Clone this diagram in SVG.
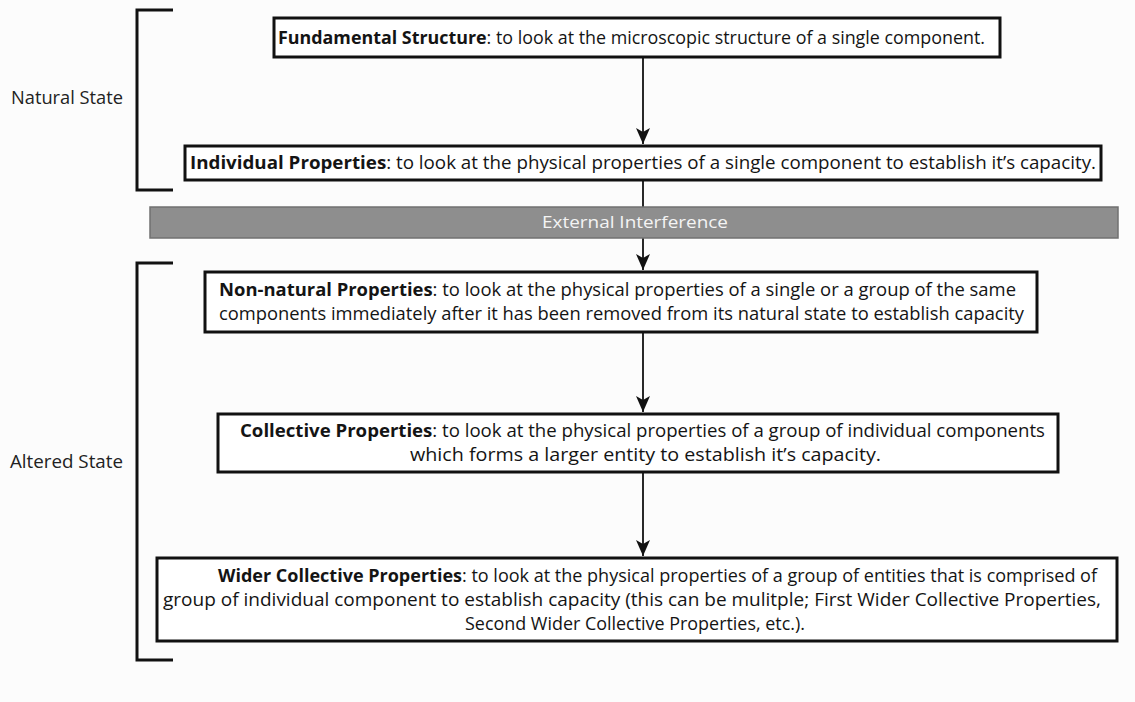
<svg xmlns="http://www.w3.org/2000/svg" width="1135" height="702" viewBox="0 0 1135 702">
<defs>
<style>
.box{fill:#ffffff;stroke:#111;stroke-width:3}
.t{font-family:"Open Sans","Liberation Sans",sans-serif;font-size:17.5px;fill:#141414}
.b{font-weight:700}
.lab{font-family:"Open Sans","Liberation Sans",sans-serif;font-size:18px;fill:#222}
.br{fill:none;stroke:#111;stroke-width:3}
.c{fill:none;stroke:#111;stroke-width:1.8}
</style>
<marker id="ah" viewBox="0 0 16 14" refX="16" refY="7" markerWidth="16" markerHeight="14" markerUnits="userSpaceOnUse" orient="auto">
<path d="M0,0 L4,7 L0,14 L16,7 Z" fill="#111"/>
</marker>
</defs>
<rect width="1135" height="702" fill="#fcfcfc"/>
<g id="natural-state">
<path class="br" d="M173,10 H137 V190 H173"/>
<text class="lab" x="11" y="104" textLength="112" lengthAdjust="spacingAndGlyphs">Natural State</text>
</g>
<g id="altered-state">
<path class="br" d="M173,263 H137 V660 H173"/>
<text class="lab" x="10" y="468" textLength="113" lengthAdjust="spacingAndGlyphs">Altered State</text>
</g>
<g id="connectors">
<line class="c" x1="643" y1="58" x2="643" y2="144" marker-end="url(#ah)"/>
<line class="c" x1="643" y1="180" x2="643" y2="207"/>
<line class="c" x1="643" y1="238" x2="643" y2="270" marker-end="url(#ah)"/>
<line class="c" x1="643" y1="332" x2="643" y2="412" marker-end="url(#ah)"/>
<line class="c" x1="643" y1="473" x2="643" y2="556" marker-end="url(#ah)"/>
</g>
<g id="fundamental">
<rect class="box" x="274" y="18" width="726" height="39"/>
<text class="t" x="278" y="44" textLength="707" lengthAdjust="spacingAndGlyphs"><tspan class="b">Fundamental Structure</tspan>: to look at the microscopic structure of a single component.</text>
</g>
<g id="individual">
<rect class="box" x="185" y="146" width="916" height="34"/>
<text class="t" x="190" y="169" textLength="906" lengthAdjust="spacingAndGlyphs"><tspan class="b">Individual Properties</tspan>: to look at the physical properties of a single component to establish it’s capacity.</text>
</g>
<g id="external">
<rect x="150" y="207" width="968" height="31" fill="#8e8e8e" stroke="#707070" stroke-width="1.5"/>
<text x="635" y="228" text-anchor="middle" font-family="Open Sans, Liberation Sans, sans-serif" font-size="17" fill="#f4f4f4" textLength="186" lengthAdjust="spacingAndGlyphs">External Interference</text>
</g>
<g id="non-natural">
<rect class="box" x="205" y="272" width="832" height="60"/>
<text class="t" x="219" y="296" textLength="797" lengthAdjust="spacingAndGlyphs"><tspan class="b">Non-natural Properties</tspan>: to look at the physical properties of a single or a group of the same</text>
<text class="t" x="219" y="320" textLength="805" lengthAdjust="spacingAndGlyphs">components immediately after it has been removed from its natural state to establish capacity</text>
</g>
<g id="collective">
<rect class="box" x="218" y="414" width="840" height="58"/>
<text class="t" x="240" y="437" textLength="805" lengthAdjust="spacingAndGlyphs"><tspan class="b">Collective Properties</tspan>: to look at the physical properties of a group of individual components</text>
<text class="t" x="410" y="461" textLength="471" lengthAdjust="spacingAndGlyphs">which forms a larger entity to establish it’s capacity.</text>
</g>
<g id="wider">
<rect class="box" x="157" y="558" width="960" height="83"/>
<text class="t" x="218" y="582" textLength="879" lengthAdjust="spacingAndGlyphs"><tspan class="b">Wider Collective Properties</tspan>: to look at the physical properties of a group of entities that is comprised of</text>
<text class="t" x="163" y="606" textLength="938" lengthAdjust="spacingAndGlyphs">group of individual component to establish capacity (this can be mulitple; First Wider Collective Properties,</text>
<text class="t" x="465" y="630" textLength="340" lengthAdjust="spacingAndGlyphs">Second Wider Collective Properties, etc.).</text>
</g>
</svg>
